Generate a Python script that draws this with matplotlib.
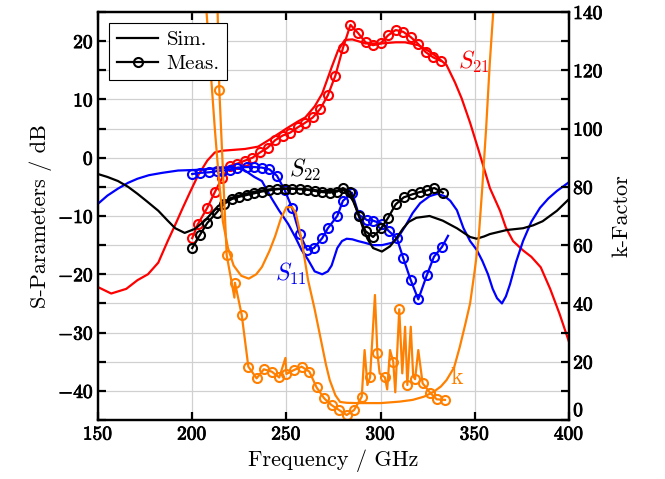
import numpy as np
import matplotlib.pyplot as plt
import matplotlib.patheffects as pe
from matplotlib.lines import Line2D
from matplotlib.ticker import MultipleLocator, FuncFormatter

plt.rcParams["font.family"] = ["cmr10", "DejaVu Serif"]
plt.rcParams["mathtext.fontset"] = "cm"
plt.rcParams["axes.formatter.use_mathtext"] = True

RED, BLUE, BLACK, ORANGE = "#ff0000", "#0000ff", "#000000", "#ff8000"

# --- S21 ---
s21_sim_f = [150, 157, 165, 171, 176.5, 182, 187, 191, 195, 199, 203, 208, 212, 216, 220, 228, 235, 242,
             250, 256, 260, 265, 269, 274, 277.4, 281, 285, 292, 300, 308, 313, 320, 324, 327, 331, 335,
             339.5, 343, 347.5, 352, 358, 363.4, 366.5, 370.3, 375.6, 380, 385, 390, 395, 400]
s21_sim_v = [-22.2, -23.3, -22.5, -21.0, -20.0, -18.0, -14.3, -11.5, -8.6, -5.8, -3.1, -0.5, 0.9, 1.2, 1.3,
             1.5, 1.9, 3.3, 5.0, 6.2, 6.9, 8.8, 11.0, 15.5, 18.4, 20.2, 20.3, 19.6, 19.6, 19.8, 19.8, 19.3,
             18.6, 18.0, 17.0, 15.9, 12.9, 10.2, 6.0, 1.3, -5.2, -9.1, -12.0, -14.3, -15.9, -17.0, -18.8,
             -22.5, -26.8, -31.6]
s21_meas_f = [200, 203, 208, 212, 216, 220, 224, 228, 232, 236, 240, 244, 248, 252, 256, 260, 264, 268,
              272, 276, 280, 284, 288, 292, 296, 300, 304, 308, 312, 316, 320, 324, 328, 332]
s21_meas_v = [-13.8, -11.4, -8.6, -5.9, -3.4, -1.4, -1.0, -0.5, 0.0, 0.9, 1.7, 3.0, 3.8, 4.3, 5.2, 6.0,
              6.9, 8.4, 10.7, 14.1, 18.8, 22.8, 21.4, 19.8, 19.3, 19.6, 21.0, 21.9, 21.6, 20.7, 19.5, 18.1,
              17.2, 16.6]

# --- S11 ---
s11_sim_f = [150, 155, 160.6, 166, 171, 177, 184, 192.5, 201.5, 210, 219, 224, 228, 233, 237, 242, 246,
             251, 255, 258, 261.5, 265, 269, 272, 274, 277, 279.5, 282, 285, 288, 291.7, 296, 300.7, 306,
             309, 313, 317, 321, 326, 330, 334, 337, 340.5, 344, 347.5, 351, 354, 357, 359.5, 361.8,
             364.4, 366.5, 368.7, 372, 375.6, 380, 384.6, 389, 393.6, 397, 400]
s11_sim_v = [-7.9, -6.5, -5.3, -4.3, -3.6, -3.0, -2.6, -2.2, -2.1, -1.9, -1.7, -1.8, -2.2, -3.3, -4.0,
             -6.9, -9.0, -11.4, -13.8, -15.8, -17.5, -19.5, -20.0, -19.5, -18.5, -15.5, -14.3, -13.9,
             -14.0, -14.3, -14.6, -15.0, -15.0, -14.6, -13.8, -11.8, -9.5, -7.8, -6.6, -6.2, -6.6, -7.4,
             -9.0, -12.1, -14.3, -15.8, -17.7, -20.0, -22.5, -24.1, -25.0, -23.8, -21.7, -17.8, -14.3,
             -11.0, -8.6, -7.0, -5.7, -4.9, -4.2]
s11_meas_f = [200, 204, 209, 213, 216, 220, 224, 229, 233, 237, 241, 245, 249, 253, 257, 261, 264.6, 269,
              272, 277, 280, 284.8, 288.5, 292.8, 296, 300.5, 304.4, 308.6, 312, 316, 320, 324.6, 328.3,
              332.6, 335.8]
s11_meas_v = [-2.8, -2.6, -2.5, -2.3, -2.2, -2.1, -1.7, -1.6, -1.6, -1.7, -2.0, -3.1, -5.5, -8.6, -13.1,
              -15.8, -15.5, -13.8, -12.1, -10.0, -7.4, -6.0, -9.8, -10.7, -10.8, -11.3, -12.6, -13.8,
              -17.2, -21.0, -24.3, -20.1, -17.0, -15.3, -13.4]

# --- S22 ---
s22_sim_f = [150, 155, 160.6, 166, 171, 176, 182, 187, 191, 196, 201.5, 207, 213.7, 220.6, 228, 235, 242,
             251, 260, 269, 275, 280, 283, 285.5, 288, 290.7, 293, 296, 300.7, 305, 308, 312, 315, 319,
             326, 333, 340.5, 347.5, 351, 355, 358, 367, 375.6, 381, 386, 393.6, 400]
s22_sim_v = [-2.8, -3.3, -4.0, -5.0, -6.2, -7.5, -9.1, -10.8, -12.1, -12.9, -12.2, -10.7, -8.3, -6.9,
             -6.2, -5.7, -5.4, -5.3, -5.4, -5.7, -5.7, -5.5, -6.2, -7.5, -9.5, -12.1, -13.9, -15.5,
             -16.1, -15.2, -14.0, -12.1, -11.0, -10.3, -10.0, -10.8, -12.1, -13.6, -13.9, -13.5, -13.1,
             -12.4, -12.1, -11.6, -10.9, -9.1, -7.1]
s22_meas_f = [200, 204, 208, 213, 217, 221, 225, 229, 233, 237, 241, 245, 249, 253, 257, 261, 265, 269,
              273, 277, 280, 284, 288.5, 292, 296, 300.3, 304, 308, 312.3, 316.7, 320.7, 324.8, 328.5, 333]
s22_meas_v = [-15.5, -13.3, -11.2, -9.4, -7.9, -7.1, -6.7, -6.4, -6.1, -5.8, -5.6, -5.4, -5.3, -5.3,
              -5.4, -5.5, -5.7, -5.9, -6.0, -5.8, -5.2, -5.9, -10.0, -12.6, -13.6, -12.1, -10.3, -8.0,
              -6.8, -6.3, -5.9, -5.6, -5.2, -6.0]

# --- k-factor ---
k_sim_f = [205, 207.5, 210, 212, 214, 216.3, 219, 222, 226, 230, 234, 237, 241, 244, 247, 250, 253, 255,
           258, 261.5, 265, 268, 271, 273, 276, 278.5, 282, 287.5, 300, 310, 317, 323, 328, 332, 335, 339,
           342, 345, 347.5, 350, 352, 354, 356, 358, 360, 362]
k_sim_v = [190, 141, 118, 100, 84, 68, 59, 53, 49.5, 48.5, 50, 52.5, 58, 63, 69, 73, 73, 71, 62, 48, 38,
           28.5, 19, 13.7, 8.5, 6.2, 5.9, 5.8, 5.8, 6.3, 6.9, 8.0, 9.6, 11.5, 13.7, 18, 25, 33, 40, 51.5,
           62, 80, 100, 123, 142, 165]
k_meas_f = [212.5, 214.4, 218.3, 222.4, 222.7, 226.3, 229.8, 234.2, 238, 242.2, 246.2, 249.5, 250, 254.2,
            258.1, 262.2, 266, 270.1, 274, 278, 282, 285.9, 290, 291.5, 293, 294.4, 297, 298.3, 299.5,
            302.3, 303.5, 305, 306.7, 307.8, 309.9, 311.5, 313, 314.2, 316, 317.3, 318.3, 320, 322.3,
            326.2, 329.8, 334.2]
k_meas_v = [170, 113.2, 56.6, 42, 47.1, 36, 18.3, 14.3, 17.4, 16.6, 14.6, 21.3, 15.8, 17.2, 18.3, 16.6,
            11.2, 7.4, 5.1, 3.4, 1.7, 3.4, 8, 24, 12, 14.6, 42.9, 22.9, 16, 14.6, 10.5, 24, 20, 9.5, 38,
            16, 32, 12, 32, 15, 14, 24, 12.6, 9.4, 7.1, 6.9]
k_meas_mark = [0, 1, 1, 0, 1, 1, 1, 1, 1, 1, 1, 0, 1, 1, 1, 1, 1, 1, 1, 1, 1, 1, 1, 0, 0, 1, 0, 1, 0, 1,
               0, 0, 1, 0, 1, 0, 0, 1, 0, 0, 1, 0, 1, 1, 1, 1]

fig = plt.figure(figsize=(6.65, 4.79), dpi=100)
ax = fig.add_axes([98 / 665, 59 / 479, 471 / 665, 408 / 479])
ax2 = ax.twinx()

lw = 1.6
mk = dict(marker="o", ms=6.5, mfc="none", mew=1.5)

ax.plot(s21_sim_f, s21_sim_v, color=RED, lw=lw)
ax.plot(s21_meas_f, s21_meas_v, color=RED, lw=lw, **mk)
ax.plot(s11_sim_f, s11_sim_v, color=BLUE, lw=lw)
ax.plot(s11_meas_f, s11_meas_v, color=BLUE, lw=lw, markevery=list(range(len(s11_meas_f) - 1)), **mk)
ax.plot(s22_sim_f, s22_sim_v, color=BLACK, lw=lw)
ax.plot(s22_meas_f, s22_meas_v, color=BLACK, lw=lw, **mk)

ax2.plot(k_sim_f, k_sim_v, color=ORANGE, lw=lw)
ax2.plot(k_meas_f, k_meas_v, color=ORANGE, lw=lw, markevery=[bool(m) for m in k_meas_mark], **mk)

ax.set_xlim(150, 400)
ax.set_ylim(-45, 25)
ax2.set_ylim(0, 140)

ax.xaxis.set_major_locator(MultipleLocator(50))
ax.yaxis.set_major_locator(MultipleLocator(10))
ax.yaxis.set_minor_locator(MultipleLocator(5))
ax2.yaxis.set_major_locator(MultipleLocator(20))
ax2.yaxis.set_minor_locator(MultipleLocator(10))

bold = FuncFormatter(lambda v, p: r"$\mathbf{%d}$" % round(v))
ax.xaxis.set_major_formatter(bold)
ax.yaxis.set_major_formatter(bold)
ax2.yaxis.set_major_formatter(bold)

ax.grid(True, which="major", axis="x", color="#d0d0d0", lw=0.9)
ax.grid(True, which="both", axis="y", color="#d0d0d0", lw=0.9)
ax.set_axisbelow(True)

for a in (ax, ax2):
    a.tick_params(which="both", direction="in", length=6, width=1.6, labelsize=14, pad=3)
    for s in a.spines.values():
        s.set_linewidth(1.6)
ax.tick_params(axis="x", top=True, pad=4)
ax.tick_params(axis="y", which="both", right=False)

# thicken tick labels a bit (bold extended look)
fig.canvas.draw()
stroke = [pe.withStroke(linewidth=0.6, foreground="black")]
for t in ax.get_xticklabels() + ax.get_yticklabels() + ax2.get_yticklabels():
    t.set_path_effects(stroke)
for t in ax2.get_yticklabels():
    if t.get_text() == r"$\mathbf{0}$":
        t.set_verticalalignment("bottom")

ax.set_xlabel("Frequency / GHz", fontsize=16, labelpad=4)
ax.set_ylabel("S-Parameters / dB", fontsize=16, labelpad=4)
ax2.set_ylabel("k-Factor", fontsize=16, labelpad=6)

ax.text(349.6, 16.4, r"$S_{21}$", color=RED, fontsize=17, ha="center", va="center")
ax.text(259.9, -2.1, r"$S_{22}$", color=BLACK, fontsize=17, ha="center", va="center")
ax.text(252.4, -20.0, r"$S_{11}$", color=BLUE, fontsize=17, ha="center", va="center")
ax2.text(340.5, 14.5, "k", color=ORANGE, fontsize=17, ha="center", va="center")

handles = [Line2D([], [], color=BLACK, lw=lw),
           Line2D([], [], color=BLACK, lw=lw, **mk)]
leg = ax2.legend(handles, ["Sim.", "Meas."], loc="upper left", fontsize=15, fancybox=False,
                 edgecolor="black", framealpha=1, handlelength=2.0, handletextpad=0.4,
                 borderpad=0.35, labelspacing=0.25, borderaxespad=0.55)
leg.get_frame().set_linewidth(0.8)

fig.savefig("out.png", dpi=100)
